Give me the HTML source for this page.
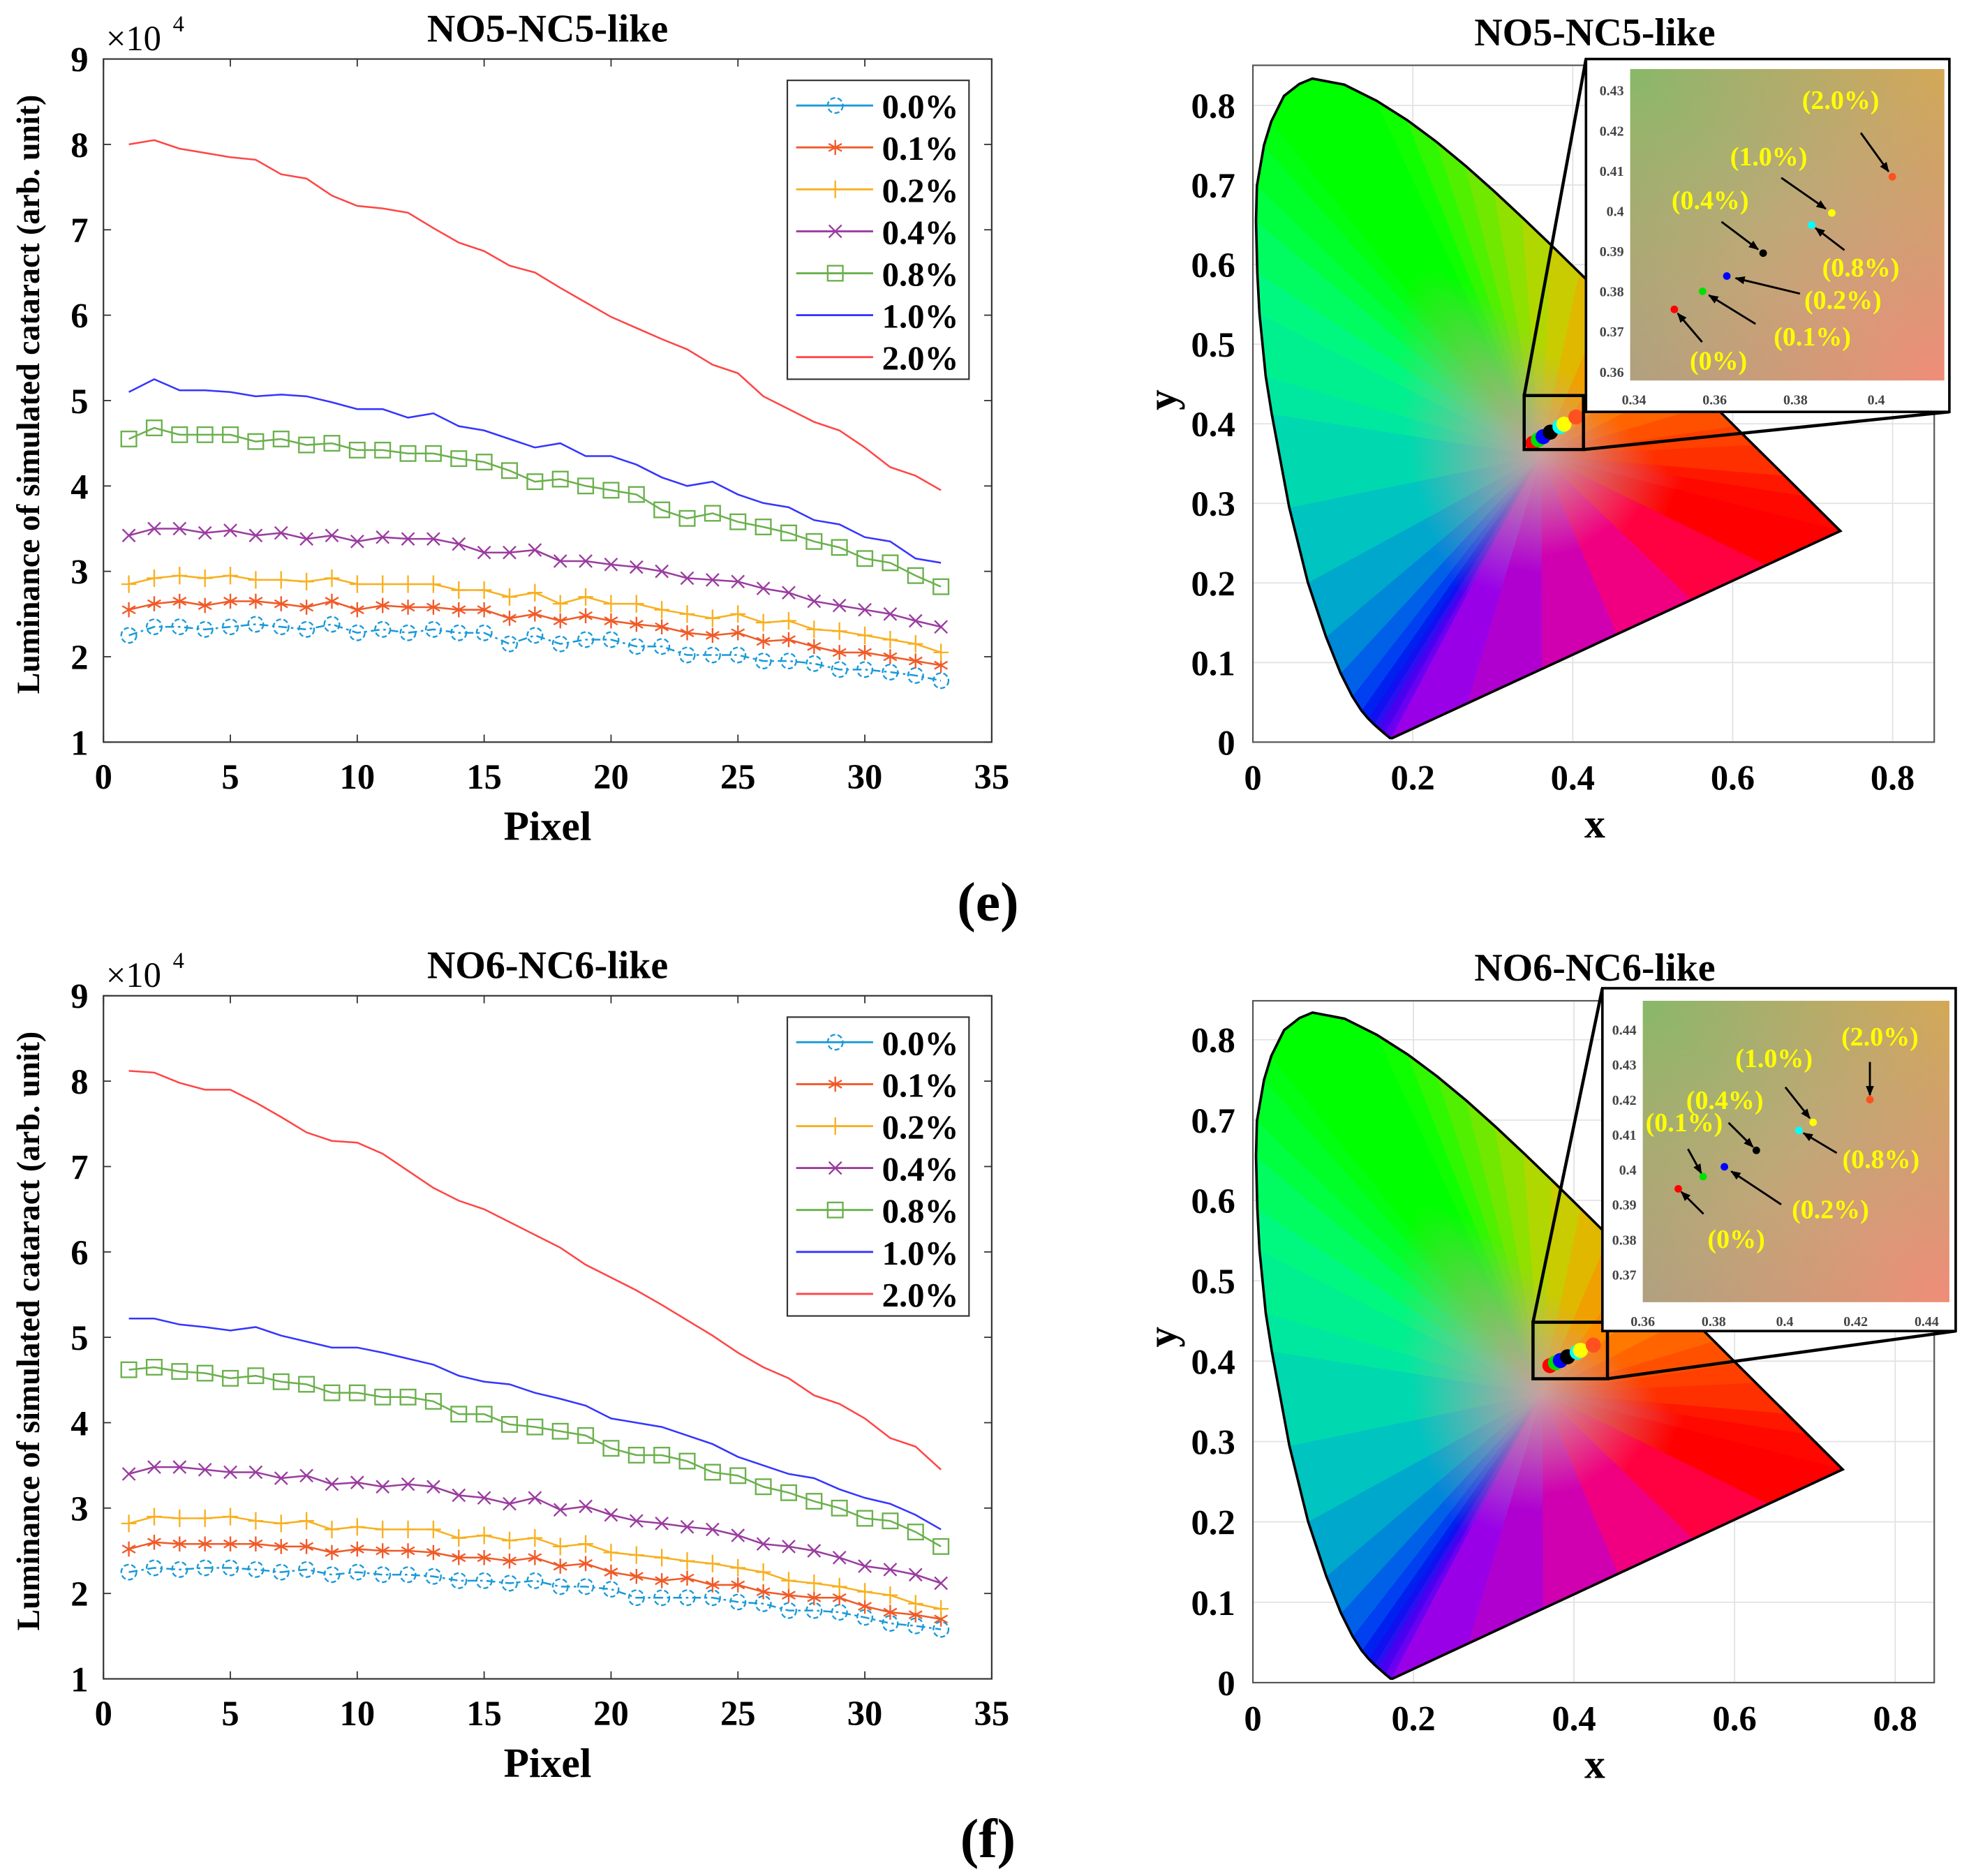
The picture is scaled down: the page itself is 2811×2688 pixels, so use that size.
<!DOCTYPE html>
<html><head><meta charset="utf-8"><style>
html,body{margin:0;padding:0;background:#fff;}
svg{display:block;font-family:"Liberation Serif",serif;font-weight:bold;}
</style></head><body>
<svg id="fig" xmlns="http://www.w3.org/2000/svg" width="2811" height="2688" viewBox="0 0 1555 1494" preserveAspectRatio="none">
<defs>
<linearGradient id="insetBg" x1="0" y1="0" x2="1" y2="1">
<stop offset="0" stop-color="#88b868"/><stop offset="0.5" stop-color="#c0a878"/><stop offset="1" stop-color="#f08c78"/></linearGradient>
<linearGradient id="insetOv" x1="0" y1="1" x2="1" y2="0">
<stop offset="0" stop-color="#a09888" stop-opacity="0.5"/><stop offset="0.5" stop-color="#c0a070" stop-opacity="0"/><stop offset="1" stop-color="#e0a840" stop-opacity="0.6"/></linearGradient>
<marker id="arr" viewBox="0 0 10 10" refX="9" refY="5" markerWidth="5" markerHeight="5" orient="auto"><path d="M0,1L10,5L0,9z" fill="#000"/></marker>
</defs>
</svg>
<script>
// ---------- data ----------
const pixels = Array.from({length:33},(_,i)=>i+1);
const seriesLabels = ["0.0%","0.1%","0.2%","0.4%","0.8%","1.0%","2.0%"];
const xTicks = [0,5,10,15,20,25,30,35];
const yTicks = [1,2,3,4,5,6,7,8,9];
const e00=[2.25,2.35,2.35,2.32,2.35,2.38,2.35,2.32,2.38,2.28,2.32,2.28,2.32,2.28,2.28,2.15,2.25,2.15,2.2,2.2,2.12,2.12,2.02,2.02,2.02,1.95,1.95,1.92,1.85,1.85,1.82,1.78,1.72];
const e01=[2.55,2.62,2.65,2.6,2.65,2.65,2.62,2.58,2.65,2.55,2.6,2.58,2.58,2.55,2.55,2.45,2.5,2.42,2.48,2.42,2.38,2.35,2.28,2.25,2.28,2.18,2.2,2.12,2.05,2.05,2.0,1.95,1.9];
const e02=[2.85,2.92,2.95,2.92,2.95,2.9,2.9,2.88,2.92,2.85,2.85,2.85,2.85,2.78,2.78,2.7,2.75,2.62,2.7,2.62,2.62,2.55,2.5,2.45,2.5,2.4,2.42,2.32,2.3,2.25,2.2,2.15,2.05];
const e04=[3.42,3.5,3.5,3.45,3.48,3.42,3.45,3.38,3.42,3.35,3.4,3.38,3.38,3.32,3.22,3.22,3.25,3.12,3.12,3.08,3.05,3.0,2.92,2.9,2.88,2.8,2.75,2.65,2.6,2.55,2.5,2.42,2.35];
const e08=[4.55,4.68,4.6,4.6,4.6,4.52,4.55,4.48,4.5,4.42,4.42,4.38,4.38,4.32,4.28,4.18,4.05,4.08,4.0,3.95,3.9,3.72,3.62,3.68,3.58,3.52,3.45,3.35,3.28,3.15,3.1,2.95,2.82];
const e10=[5.1,5.25,5.12,5.12,5.1,5.05,5.07,5.05,4.98,4.9,4.9,4.8,4.85,4.7,4.65,4.55,4.45,4.5,4.35,4.35,4.25,4.1,4.0,4.05,3.9,3.8,3.75,3.6,3.55,3.4,3.35,3.15,3.1];
const e20=[8.0,8.05,7.95,7.9,7.85,7.82,7.65,7.6,7.4,7.28,7.25,7.2,7.02,6.85,6.75,6.58,6.5,6.32,6.15,5.98,5.85,5.72,5.6,5.42,5.32,5.05,4.9,4.75,4.65,4.45,4.22,4.12,3.95];
const f00=[2.25,2.3,2.28,2.3,2.3,2.28,2.25,2.28,2.22,2.25,2.22,2.22,2.2,2.15,2.15,2.12,2.15,2.08,2.08,2.05,1.95,1.95,1.95,1.95,1.9,1.88,1.8,1.8,1.78,1.72,1.65,1.62,1.58];
const f01=[2.52,2.6,2.58,2.58,2.58,2.58,2.55,2.55,2.48,2.52,2.5,2.5,2.48,2.42,2.42,2.38,2.42,2.32,2.35,2.25,2.2,2.15,2.18,2.1,2.1,2.02,1.98,1.95,1.95,1.85,1.78,1.75,1.7];
const f02=[2.82,2.9,2.88,2.88,2.9,2.85,2.82,2.85,2.75,2.78,2.75,2.75,2.75,2.65,2.68,2.62,2.65,2.55,2.58,2.48,2.45,2.42,2.38,2.35,2.3,2.25,2.15,2.12,2.08,2.02,1.98,1.88,1.82];
const f04=[3.4,3.48,3.48,3.45,3.42,3.42,3.35,3.38,3.28,3.3,3.25,3.28,3.25,3.15,3.12,3.05,3.12,2.98,3.02,2.92,2.85,2.82,2.78,2.75,2.68,2.58,2.55,2.5,2.42,2.32,2.28,2.22,2.12];
const f08=[4.62,4.65,4.6,4.58,4.52,4.55,4.48,4.45,4.35,4.35,4.3,4.3,4.25,4.1,4.1,3.98,3.95,3.9,3.85,3.7,3.62,3.62,3.55,3.42,3.38,3.25,3.18,3.08,3.0,2.88,2.85,2.72,2.55];
const f10=[5.22,5.22,5.15,5.12,5.08,5.12,5.02,4.95,4.88,4.88,4.82,4.75,4.68,4.55,4.48,4.45,4.35,4.28,4.2,4.05,4.0,3.95,3.85,3.75,3.6,3.5,3.4,3.35,3.22,3.12,3.05,2.92,2.75];
const f20=[8.12,8.1,7.98,7.9,7.9,7.75,7.58,7.4,7.3,7.28,7.15,6.95,6.75,6.6,6.5,6.35,6.2,6.05,5.85,5.7,5.55,5.38,5.2,5.02,4.82,4.65,4.52,4.32,4.22,4.05,3.82,3.72,3.45];
const cieLabels = ["(0%)","(0.1%)","(0.2%)","(0.4%)","(0.8%)","(1.0%)","(2.0%)"];
const eCieX=[0.350,0.357,0.363,0.372,0.384,0.389,0.404];
const eCieY=[0.3755,0.3800,0.3838,0.3895,0.3965,0.3995,0.4085];
const fCieX=[0.370,0.377,0.383,0.392,0.404,0.408,0.424];
const fCieY=[0.3945,0.3980,0.4008,0.4055,0.4112,0.4135,0.4200];
const cieTicksY=[0,0.1,0.2,0.3,0.4,0.5,0.6,0.7,0.8];
const cieTicksX=[0,0.2,0.4,0.6,0.8];
const locusX=[0.1741,0.1714,0.1644,0.1566,0.1510,0.1440,0.1355,0.1241,0.1096,0.0913,0.0687,0.0454,0.0235,0.0160,0.0082,0.0055,0.0039,0.0050,0.0139,0.0230,0.0389,0.0580,0.0743,0.1142,0.1547,0.1929,0.2296,0.2658,0.3016,0.3373,0.3731,0.4087,0.4441,0.4788,0.5125,0.5448,0.5752,0.6029,0.6270,0.6658,0.6915,0.7347];
const locusY=[0.0050,0.0051,0.0109,0.0177,0.0227,0.0297,0.0399,0.0578,0.0868,0.1327,0.2007,0.2950,0.4127,0.4600,0.5384,0.5900,0.6548,0.6990,0.7502,0.7800,0.8120,0.8270,0.8338,0.8262,0.8059,0.7816,0.7543,0.7243,0.6923,0.6589,0.6245,0.5896,0.5547,0.5202,0.4866,0.4544,0.4242,0.3965,0.3725,0.3340,0.3083,0.2653];
// display hue per locus vertex (styling)
const locusC=["#8a00f0","#6a00f0","#4a00f0","#2a10f0","#1010f0","#0020f0","#0040f0","#0060e8","#0088d8","#00a8cc","#00c4c0","#00d8b0","#00e8a0","#00f090","#00f880","#00fc60","#00ff40","#00ff28","#00ff10","#00ff00","#00ff00","#00ff00","#00ff00","#00ff00","#10ff00","#30f800","#50f000","#70e800","#90e000","#b0d800","#c8cc00","#e0b800","#f0a000","#ff8c00","#ff7800","#ff6400","#ff5000","#ff4000","#ff3000","#ff1800","#ff0800","#ff0000"];

// ---------- helpers ----------
const NS="http://www.w3.org/2000/svg";
const svg=document.getElementById('fig');
const defs=svg.querySelector('defs');
function mk(tag,attrs,parent){const e=document.createElementNS(NS,tag);for(const k in attrs)e.setAttribute(k,attrs[k]);(parent||svg).appendChild(e);return e;}
function txt(s,x,y,size,anchor,parent,extra){const t=mk('text',Object.assign({x:x,y:y,'font-size':size,'text-anchor':anchor||'middle'},extra||{}),parent);t.textContent=s;return t;}
const colors=["#1a9ad8","#f05a28","#f8b020","#9a3ca0","#6ab04c","#3535ff","#ff4545"];

function linePanel(title,data,T,legY){
  const L=82,R=786,B=T+544;
  const sx=v=>L+(v-0)/(35-0)*(R-L);
  const sy=v=>B-(v-1)/(9-1)*(B-T);
  const g=mk('g',{});
  
  
  const box=mk('rect',{x:L,y:T,width:R-L,height:B-T,fill:'none',stroke:'#333','stroke-width':1.2},g);
  
  xTicks.forEach(v=>{mk('line',{x1:sx(v),x2:sx(v),y1:B,y2:B-6,stroke:'#333'},g);mk('line',{x1:sx(v),x2:sx(v),y1:T,y2:T+6,stroke:'#333'},g);
    const t=txt(String(v),sx(v),B+37,28,'middle',g);});
  yTicks.forEach(v=>{mk('line',{x1:L,x2:L+6,y1:sy(v),y2:sy(v),stroke:'#333'},g);mk('line',{x1:R,x2:R-6,y1:sy(v),y2:sy(v),stroke:'#333'},g);
    const t=txt(String(v),L-12,sy(v)+10,28,'end',g);});
  const mult=txt('×10',84,T-7,28,'start',g,{'font-weight':'normal'});
  const ex=txt('4',137,T-22,18,'start',g,{'font-weight':'normal'});
  const tt=txt(title,434,T-14,31,'middle',g);
  const xl=txt('Pixel',434,B+78,33,'middle',g);
  const yl=txt('Luminance of simulated cataract (arb. unit)',0,0,25.5,'middle',g,{transform:`translate(31,${(T+B)/2-5}) rotate(-90)`});
  
  data.forEach((vals,si)=>{
    const c=colors[si];
    const pts=pixels.map((p,i)=>sx(p)+','+sy(vals[i])).join(' ');
    const pl=mk('polyline',{points:pts,fill:'none',stroke:c,'stroke-width':1.4},g);
    if(si===0)pl.setAttribute('stroke-dasharray','7,3,2,3');
    
    
    if(si<5) pixels.forEach((p,i)=>{const m=marker(si,sx(p),sy(vals[i]),g);});
  });
  const lg=mk('g',{},g);
  mk('rect',{x:624,y:legY,width:144,height:238,fill:'#fff',stroke:'#333','stroke-width':1.2},lg);
  seriesLabels.forEach((s,si)=>{const yy=legY+20+si*33.4;
    const en=mk('g',{},lg);
    mk('line',{x1:631,x2:692,y1:yy,y2:yy,stroke:colors[si],'stroke-width':1.6},en);
    if(si<5)marker(si,662,yy,en);
    txt(s,699,yy+10,27,'start',en);});
}
function marker(si,x,y,parent){
  const c=colors[si];const g=mk('g',{stroke:c,fill:'none','stroke-width':1.3},parent);
  if(si===0){mk('circle',{cx:x,cy:y,r:6,'stroke-dasharray':'4,2'},g);}
  else if(si===1){for(let a=0;a<180;a+=60){const r=(a+90)*Math.PI/180;mk('line',{x1:x-6*Math.cos(r),y1:y-6*Math.sin(r),x2:x+6*Math.cos(r),y2:y+6*Math.sin(r)},g);}}
  else if(si===2){mk('line',{x1:x-6,x2:x+6,y1:y,y2:y},g);mk('line',{x1:x,x2:x,y1:y-7,y2:y+7},g);}
  else if(si===3){mk('line',{x1:x-5,x2:x+5,y1:y-5,y2:y+5},g);mk('line',{x1:x-5,x2:x+5,y1:y+5,y2:y-5},g);}
  else {mk('rect',{x:x-6,y:y-6,width:12,height:12},g);}
  return g;
}
let gid=0;
function wedge(parent,cx,cy,ax,ay,bx,by,ca,cb,center){
  const mx=(ax+bx)/2,my=(ay+by)/2;
  const id='w'+(gid++);
  const lgr=mk('linearGradient',{id:id,gradientUnits:'userSpaceOnUse',x1:cx,y1:cy,x2:mx,y2:my},defs);
  mk('stop',{offset:0,'stop-color':center},lgr);
  mk('stop',{offset:0.5,'stop-color':ca},lgr);
  mk('stop',{offset:1,'stop-color':ca},lgr);
  mk('path',{d:`M${cx},${cy}L${ax},${ay}L${bx},${by}Z`,fill:`url(#${id})`,stroke:`url(#${id})`,'stroke-width':0.8},parent);
}
function ciePanel(cfg){
  const {L,R,T,B,x0,x08,y0,y08,title,cx,cy,zoom,inset}=cfg;
  const sx=v=>x0+v*(x08-x0)/0.8, sy=v=>y0-v*(y0-y08)/0.8;
  const g=mk('g',{});
  cieTicksY.forEach(v=>{mk('line',{x1:L,x2:R,y1:sy(v),y2:sy(v),stroke:'#e2e2e2'},g);
    const t=txt(String(v),L-14,sy(v)+10,28,'end',g);});
  cieTicksX.forEach(v=>{mk('line',{x1:sx(v),x2:sx(v),y1:T,y2:B,stroke:'#e2e2e2'},g);
    const t=txt(String(v),sx(v),B+38,28,'middle',g);});
  const frame=mk('rect',{x:L,y:T,width:R-L,height:B-T,fill:'none',stroke:'#555','stroke-width':1.2},g);
  
  const fg=mk('g',{},g);
  const wx=sx(0.36),wy=sy(0.36),center='#c8a0a0';
  for(let i=0;i<locusX.length-1;i++){
    wedge(fg,wx,wy,sx(locusX[i]),sy(locusY[i]),sx(locusX[i+1]),sy(locusY[i+1]),locusC[i],locusC[i+1],center);
  }
  // purple line: subdivide red -> magenta -> violet
  const n=locusX.length-1, pur=["#ff0000","#ff0040","#f00080","#d000b0","#b000d0","#9a00e8","#8a00f0"];
  for(let k=0;k<pur.length-1;k++){
    const t0=k/(pur.length-1),t1=(k+1)/(pur.length-1);
    const ax=locusX[n]+(locusX[0]-locusX[n])*t0, ay=locusY[n]+(locusY[0]-locusY[n])*t0;
    const bx=locusX[n]+(locusX[0]-locusX[n])*t1, by=locusY[n]+(locusY[0]-locusY[n])*t1;
    wedge(fg,wx,wy,sx(ax),sy(ay),sx(bx),sy(by),pur[k],pur[k+1],center);
  }
  const d='M'+locusX.map((v,i)=>sx(v)+','+sy(locusY[i])).join(' L')+' Z';
  const lp=mk('path',{d:d,fill:'none',stroke:'#000','stroke-width':2},g);
  const tt=txt(title,1264,T-16,31,'middle',g);
  const xl=txt('x',1264,B+76,33,'middle',g);
  const yl=txt('y',0,0,33,'middle',g,{transform:`translate(932,${sy(0.43)}) rotate(-90)`});
  const dotCol=["#ff0000","#00e000","#0000ff","#000000","#00ffff","#ffff00","#ff5020"];
  cx.forEach((v,i)=>{const c=mk('circle',{cx:sx(v),cy:sy(cy[i]),r:6,fill:dotCol[i]},g);});
  const z=zoom;const zr=mk('rect',{x:z[0],y:z[1],width:z[2]-z[0],height:z[3]-z[1],fill:'none',stroke:'#000','stroke-width':2.5},g);
  
  const I=inset;
  mk('line',{x1:z[0],y1:z[1],x2:I.bx,y2:I.by,stroke:'#000','stroke-width':2.5},g);
  mk('line',{x1:z[2],y1:z[3],x2:I.bx+I.bw,y2:I.by+I.bh,stroke:'#000','stroke-width':2.5},g);
  const ig=mk('g',{},g);
  mk('rect',{x:I.bx,y:I.by,width:I.bw,height:I.bh,fill:'#fff',stroke:'#000','stroke-width':2},ig);
  mk('rect',{x:I.pl,y:I.pt,width:I.pr-I.pl,height:I.pb-I.pt,fill:'url(#insetBg)'},ig);
  mk('rect',{x:I.pl,y:I.pt,width:I.pr-I.pl,height:I.pb-I.pt,fill:'url(#insetOv)'},ig);
  const ix=v=>I.xa+(v-I.xv0)/(I.xv1-I.xv0)*(I.xb-I.xa), iy=v=>I.ya+(v-I.yv0)/(I.yv1-I.yv0)*(I.yb-I.ya);
  I.xt.forEach(v=>{const t=txt(String(v),ix(v),I.pb+19,11,'middle',ig,{fill:'#444'});});
  I.yt.forEach(v=>{const t=txt(String(v),I.pl-5,iy(v)+4,11,'end',ig,{fill:'#444'});});
  cx.forEach((v,i)=>{const px=ix(v),py=iy(cy[i]);const o=I.lab[i];
    const a=mk('line',{x1:px+o[2],y1:py+o[3],x2:px+o[2]*0.12,y2:py+o[3]*0.12,stroke:'#000','stroke-width':1.6,'marker-end':'url(#arr)'},ig);
    
    const c=mk('circle',{cx:px,cy:py,r:3,fill:dotCol[i]},ig);
    const t=txt(cieLabels[i],px+o[0],py+o[1],21,'middle',ig,{fill:'#ffff00'});});
}

linePanel('NO5-NC5-like',[e00,e01,e02,e04,e08,e10,e20],47,64);
linePanel('NO6-NC6-like',[f00,f01,f02,f04,f08,f10,f20],793,810);
ciePanel({L:993,R:1533,T:52,B:591,x0:993,x08:1500,y0:591,y08:84,title:'NO5-NC5-like',cx:eCieX,cy:eCieY,
  zoom:[1208,315,1255,358],
  inset:{bx:1257,by:47,bw:288,bh:281,pl:1292,pr:1541,pt:55,pb:303,xa:1295,xb:1487,xv0:0.34,xv1:0.40,ya:296,yb:72,yv0:0.36,yv1:0.43,xt:[0.34,0.36,0.38,0.4],yt:[0.36,0.37,0.38,0.39,0.4,0.41,0.42,0.43],
  lab:[[35,48,22,26],[87,43,42,26],[92,26,58,14],[-42,-35,-33,-25],[39,41,26,20],[-50,-38,-40,-28],[-41,-54,-25,-35]]}});
ciePanel({L:993,R:1533,T:797,B:1340,x0:993,x08:1502,y0:1340,y08:828,title:'NO6-NC6-like',cx:fCieX,cy:fCieY,
  zoom:[1215,1053,1274,1098],
  inset:{bx:1270,by:787,bw:280,bh:273,pl:1302,pr:1545,pt:797,pb:1037,xa:1302,xb:1527,xv0:0.36,xv1:0.44,ya:820,yb:1015,yv0:0.44,yv1:0.37,xt:[0.36,0.38,0.4,0.42,0.44],yt:[0.37,0.38,0.39,0.4,0.41,0.42,0.43,0.44],
  lab:[[46,47,20,20],[-15,-36,-12,-22],[84,41,45,30],[-25,-33,-22,-22],[65,30,30,18],[-31,-44,-22,-28],[8,-43,0,-30]]}});
const pe=txt('(e)',783,733,44,'middle');
const pf=txt('(f)',783,1479,44,'middle');
</script>
</body></html>
